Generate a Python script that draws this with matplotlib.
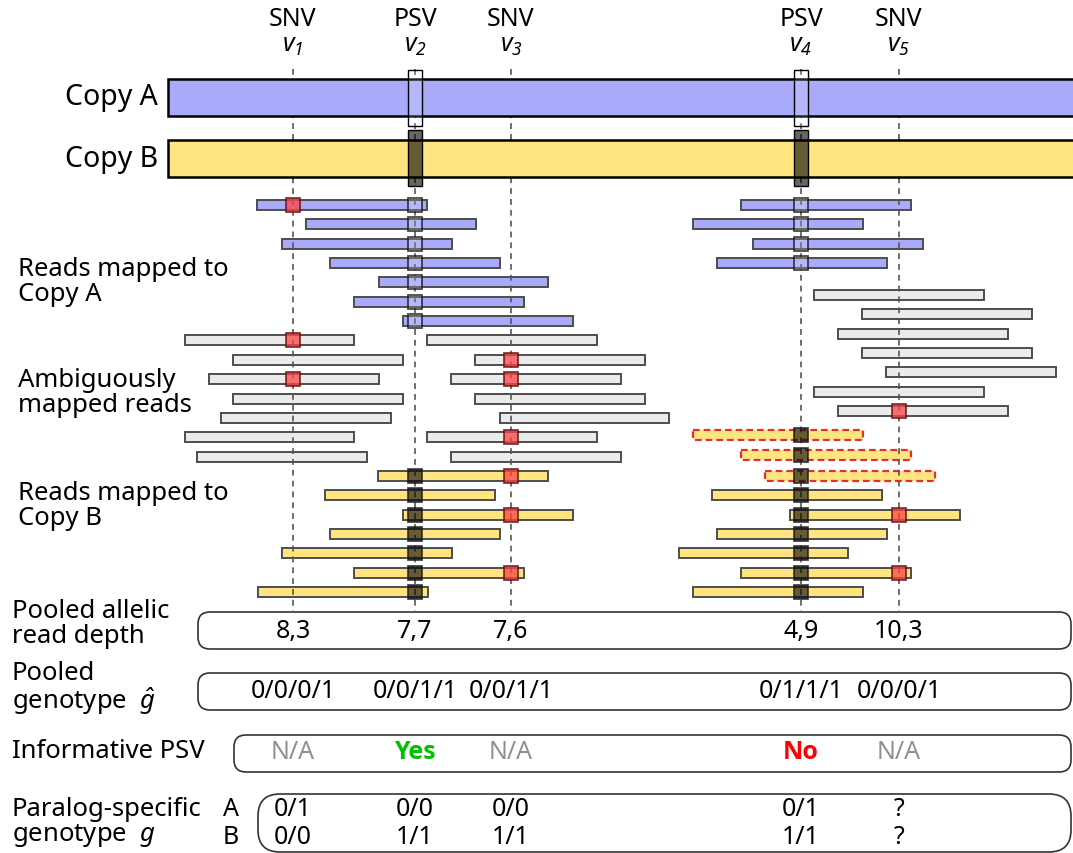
import matplotlib
matplotlib.use('Agg')
import matplotlib.pyplot as plt
from matplotlib.patches import Rectangle, FancyBboxPatch

plt.rcParams['font.family'] = ['Noto Sans', 'DejaVu Sans']
plt.rcParams['mathtext.fontset'] = 'custom'
plt.rcParams['mathtext.rm'] = 'Noto Sans:italic'
plt.rcParams['mathtext.it'] = 'Noto Sans:italic'
plt.rcParams['mathtext.default'] = 'it'

# variants along the gene
var_pos = [293, 415, 511, 801, 899]
var_kind = ['SNV', 'PSV', 'SNV', 'PSV', 'SNV']
var_name = ['$v_1$', '$v_2$', '$v_3$', '$v_4$', '$v_5$']

# reads mapped to copy A (start, end, row, SNV alt alleles carried)
blue_start = [257, 306, 282, 330, 379, 354, 403, 741, 693, 753, 717]
blue_end = [427, 476, 452, 500, 548, 524, 573, 911, 863, 923, 887]
blue_row = [0, 1, 2, 3, 4, 5, 6, 0, 1, 2, 3]
blue_alt = [[0], [], [], [], [], [], [], [], [], [], []]

# ambiguously mapped reads
gray_start = [185, 233, 209, 233, 221, 185, 197,
              427, 475, 451, 475, 500, 427, 451,
              814, 862, 838, 862, 886, 814, 838]
gray_end = [354, 403, 379, 403, 391, 354, 367,
            597, 645, 621, 645, 669, 597, 621,
            984, 1032, 1008, 1032, 1056, 984, 1008]
gray_row = [7, 8, 9, 10, 11, 12, 13,
            7, 8, 9, 10, 11, 12, 13,
            4.65, 5.65, 6.65, 7.65, 8.65, 9.65, 10.65]
gray_alt = [[0], [], [0], [], [], [], [],
            [], [2], [2], [], [], [2], [],
            [], [], [], [], [], [], [4]]

# reads mapped to copy B
yellow_start = [378, 325, 403, 330, 282, 354, 258, 712, 790, 717, 679, 741, 693]
yellow_end = [548, 495, 573, 500, 452, 524, 428, 882, 960, 887, 848, 911, 863]
yellow_row = [14, 15, 16, 17, 18, 19, 20, 15, 16, 17, 18, 19, 20]
yellow_alt = [[2], [], [2], [], [], [2], [], [], [4], [], [], [4], []]

# mis-mapped reads (actually from copy A)
dashed_start = [693, 741, 765]
dashed_end = [863, 911, 935]
dashed_row = [11.9, 12.9, 14.0]

# summary rows
depth = ['8,3', '7,7', '7,6', '4,9', '10,3']
pooled_gt = ['0/0/0/1', '0/0/1/1', '0/0/1/1', '0/1/1/1', '0/0/0/1']
informative = ['N/A', 'Yes', 'N/A', 'No', 'N/A']
gt_a = ['0/1', '0/0', '0/0', '0/1', '?']
gt_b = ['0/0', '1/1', '1/1', '1/1', '?']

BLUE = '#aaaafa'
YELLOW = '#ffe480'
GRAY = '#ebebeb'
RED = (0.98, 0.27, 0.27, 0.75)
DARK = (0, 0, 0, 0.6)
LIGHT = (1, 1, 1, 0.15)

ROW0, ROWSTEP = 206, 19.35
READ_H, MARK = 10, 14

fig = plt.figure(figsize=(10.73, 8.54), dpi=100)
ax = fig.add_axes([0, 0, 1, 1])
ax.set_xlim(0, 1073)
ax.set_ylim(854, 0)
ax.axis('off')

# header
for x, k, n in zip(var_pos, var_kind, var_name):
    ax.text(x, 20, k, ha='center', va='center', fontsize=18)
    ax.text(x, 46, n, ha='center', va='center', fontsize=18)

ax.vlines(var_pos, 70, 613, colors='#555555', linestyles=(0, (3.5, 3)), lw=1.2, zorder=2)

# gene copies
ax.add_patch(Rectangle((168, 80), 920, 37, fc=BLUE, ec='black', lw=1.8, zorder=3))
ax.add_patch(Rectangle((168, 141), 920, 37, fc=YELLOW, ec='black', lw=1.8, zorder=3))
ax.text(158, 98, 'Copy A', ha='right', va='center', fontsize=20.5)
ax.text(158, 159, 'Copy B', ha='right', va='center', fontsize=20.5)
for x, k in zip(var_pos, var_kind):
    if k == 'PSV':
        ax.add_patch(Rectangle((x - 7, 71), 14, 56, fc=LIGHT, ec='black', lw=1, zorder=4))
        ax.add_patch(Rectangle((x - 7, 131), 14, 56, fc=DARK, ec='black', lw=1, zorder=4))


def draw_reads(starts, ends, rows, alts, fc, psv_fc, ec='#4d4d4d', ls='-', lw=1.4):
    for s, e, r, alt in zip(starts, ends, rows, alts):
        y = ROW0 + ROWSTEP * r
        ax.add_patch(Rectangle((s, y - READ_H / 2), e - s, READ_H, fc=fc, ec=ec,
                               lw=lw, ls=ls, zorder=1))
        for i, (x, k) in enumerate(zip(var_pos, var_kind)):
            if k == 'PSV' and s < x < e:
                ax.add_patch(Rectangle((x - MARK / 2, y - MARK / 2), MARK, MARK,
                                       fc=psv_fc, ec=(0.1, 0.1, 0.1, 0.8), lw=1.3, zorder=5))
            if i in alt:
                ax.add_patch(Rectangle((x - MARK / 2, y - MARK / 2), MARK, MARK,
                                       fc=RED, ec=(0.4, 0.05, 0.05, 0.8), lw=1.3, zorder=5))


draw_reads(blue_start, blue_end, blue_row, blue_alt, BLUE, LIGHT)
draw_reads(gray_start, gray_end, gray_row, gray_alt, GRAY, LIGHT)
draw_reads(yellow_start, yellow_end, yellow_row, yellow_alt, YELLOW, DARK)
draw_reads(dashed_start, dashed_end, dashed_row, [[]] * 3, YELLOW, DARK,
           ec='#e03030', ls=(0, (3, 1.8)), lw=1.6)

# left labels
lab = dict(ha='left', va='center', fontsize=18.5, linespacing=1.02)
ax.text(18, 282, 'Reads mapped to\nCopy A', **lab)
ax.text(18, 393, 'Ambiguously\nmapped reads', **lab)
ax.text(18, 506, 'Reads mapped to\nCopy B', **lab)
ax.text(12, 624, 'Pooled allelic\nread depth', **lab)
ax.text(12, 689, 'Pooled\ngenotype  $\\hat{g}$', **lab)
ax.text(12, 752, 'Informative PSV', **lab)
ax.text(12, 823, 'Paralog-specific\ngenotype  $g$', **lab)
ax.text(231, 810, 'A', ha='center', va='center', fontsize=18)
ax.text(231, 838, 'B', ha='center', va='center', fontsize=18)

# summary boxes
for x0, y0, h, rad in [(198, 613, 37, 12), (198, 674, 37, 12), (234, 736, 37, 12), (258, 795, 58, 22)]:
    ax.add_patch(FancyBboxPatch((x0, y0), 1071 - x0, h,
                                boxstyle=f'round,pad=0,rounding_size={rad}',
                                fc='none', ec='#333333', lw=1.2))

info_color = {'N/A': '#909090', 'Yes': '#00c000', 'No': '#ff0000'}
for i, x in enumerate(var_pos):
    ax.text(x, 632, depth[i], ha='center', va='center', fontsize=18)
    ax.text(x, 692, pooled_gt[i], ha='center', va='center', fontsize=18)
    if informative[i] == 'N/A':
        ax.text(x, 753, informative[i], ha='center', va='center', fontsize=18,
                color=info_color[informative[i]])
    else:
        ax.text(x, 753, informative[i], ha='center', va='center', fontsize=18,
                color=info_color[informative[i]], fontweight='bold',
                family=['Open Sans', 'DejaVu Sans'])
    ax.text(x, 810, gt_a[i], ha='center', va='center', fontsize=18)
    ax.text(x, 838, gt_b[i], ha='center', va='center', fontsize=18)

fig.savefig('out.png', dpi=100)
